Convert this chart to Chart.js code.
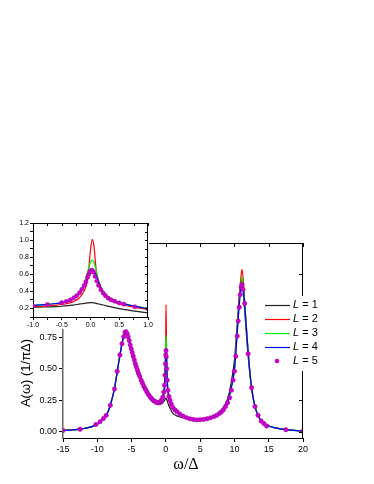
<!DOCTYPE html>
<html lang="en">
<head>
<meta charset="UTF-8">
<title>A(w) spectral function</title>
<style>
  body { margin: 0; background: #fff; }
  #wrap { position: relative; width: 374px; height: 484px; }
  #mainChart { position: absolute; left: 0; top: 0; }
  #insetChart { position: absolute; left: 0; top: 200px; }
</style>
</head>
<body>
<div id="wrap">
  <canvas id="mainChart" width="374" height="484"></canvas>
  <canvas id="insetChart" width="158" height="130"></canvas>
</div>
<script src="https://cdn.jsdelivr.net/npm/chart.js"></script>
<script>
// ---- data ----
const seriesNames = ['1', '2', '3', '4', '5'];
const seriesColors = ['#222222', '#ff0000', '#00ee00', '#0000ff', '#cc00cc'];

// main panel, solid lines L = 1..4
const omegaMain = [-15, -12.5, -10, -9, -8.5, -8, -7.5, -7, -6.5, -6.2,
  -5.9, -5.6, -5.3, -5, -4.5, -4, -3.5, -3, -2.5, -2,
  -1.5, -1, -0.6, -0.3, -0.15, -0.05, 0, 0.03, 0.1, 0.2,
  0.4, 0.6, 1, 1.5, 2, 2.5, 3, 3.5, 4, 4.5,
  5, 6, 7, 7.5, 8, 8.5, 9, 9.5, 10, 10.3,
  10.6, 10.9, 11.1, 11.3, 11.6, 12, 12.5, 13, 13.5, 14,
  15, 16, 17.5, 20];
const mainL1 = [0.01, 0.02, 0.06, 0.11, 0.15, 0.23, 0.34, 0.51, 0.67, 0.75,
  0.795, 0.78, 0.735, 0.67, 0.565, 0.485, 0.415, 0.355, 0.305, 0.265,
  0.235, 0.218, 0.222, 0.24, 0.253, 0.265, 0.268, 0.268, 0.26, 0.243,
  0.212, 0.186, 0.148, 0.128, 0.118, 0.112, 0.106, 0.1, 0.096, 0.094,
  0.095, 0.104, 0.123, 0.138, 0.163, 0.2, 0.26, 0.38, 0.57, 0.78,
  1.0, 1.17, 1.2, 1.1, 0.88, 0.6, 0.34, 0.195, 0.122, 0.078,
  0.045, 0.03, 0.016, 0.005];
const mainL2 = [0.01, 0.02, 0.06, 0.11, 0.15, 0.23, 0.34, 0.51, 0.67, 0.75,
  0.795, 0.77, 0.71, 0.635, 0.52, 0.44, 0.375, 0.32, 0.278, 0.247,
  0.228, 0.222, 0.238, 0.28, 0.36, 0.54, 0.88, 1.01, 0.64, 0.4,
  0.275, 0.235, 0.188, 0.158, 0.138, 0.122, 0.11, 0.102, 0.096, 0.093,
  0.094, 0.102, 0.118, 0.131, 0.153, 0.186, 0.235, 0.345, 0.5, 0.72,
  0.97, 1.2, 1.29, 1.2, 0.95, 0.64, 0.35, 0.2, 0.125, 0.08,
  0.045, 0.03, 0.016, 0.005];
const mainL3 = [0.01, 0.02, 0.06, 0.11, 0.15, 0.23, 0.34, 0.51, 0.67, 0.75,
  0.795, 0.775, 0.725, 0.655, 0.545, 0.465, 0.395, 0.34, 0.293, 0.258,
  0.237, 0.232, 0.258, 0.315, 0.42, 0.63, 0.74, 0.765, 0.64, 0.425,
  0.295, 0.252, 0.198, 0.165, 0.142, 0.125, 0.112, 0.103, 0.097, 0.094,
  0.095, 0.103, 0.12, 0.133, 0.155, 0.188, 0.235, 0.34, 0.49, 0.71,
  0.94, 1.15, 1.23, 1.16, 0.94, 0.63, 0.35, 0.2, 0.125, 0.08,
  0.045, 0.03, 0.016, 0.005];
const mainL4 = [0.01, 0.02, 0.06, 0.11, 0.15, 0.23, 0.34, 0.51, 0.67, 0.75,
  0.795, 0.775, 0.725, 0.655, 0.545, 0.465, 0.395, 0.34, 0.293, 0.258,
  0.237, 0.23, 0.255, 0.315, 0.42, 0.575, 0.645, 0.66, 0.585, 0.41,
  0.29, 0.25, 0.197, 0.165, 0.142, 0.125, 0.112, 0.103, 0.097, 0.094,
  0.095, 0.103, 0.12, 0.133, 0.155, 0.188, 0.235, 0.34, 0.49, 0.7,
  0.93, 1.12, 1.18, 1.13, 0.93, 0.63, 0.35, 0.2, 0.125, 0.08,
  0.045, 0.03, 0.016, 0.005];

// main panel, dots L = 5
const omegaDotsMain = [-15, -12.5, -10.2, -9.6, -9.1, -8.7, -8.1, -7.5, -7.1, -6.7,
  -6.4, -6.15, -5.95, -5.8, -5.65, -5.5, -5.35, -5.2, -5.05, -4.9,
  -4.75, -4.6, -4.45, -4.3, -4.15, -4.0, -3.8, -3.6, -3.4, -3.2,
  -3.0, -2.8, -2.6, -2.4, -2.2, -2.0, -1.8, -1.6, -1.4, -1.2,
  -1.0, -0.8, -0.6, -0.45, -0.3, -0.2, -0.12, -0.06, -0.02, 0.02,
  0.06, 0.12, 0.2, 0.3, 0.45, 0.6, 0.8, 1.0, 1.3, 1.6,
  2.0, 2.5, 3.0, 3.5, 4.0, 4.5, 5.0, 5.5, 6.0, 6.5,
  7.0, 7.4, 7.8, 8.1, 8.4, 8.7, 9.0, 9.3, 9.55, 9.8,
  10.0, 10.2, 10.4, 10.55, 10.7, 10.85, 11.0, 11.1, 11.25, 11.5,
  12.0, 12.5, 13.0, 13.45, 13.9, 14.3, 14.7, 17.5, 20];
const mainL5 = [0.01, 0.02, 0.058, 0.08, 0.105, 0.13, 0.21, 0.34, 0.48, 0.61,
  0.7, 0.755, 0.79, 0.795, 0.78, 0.755, 0.725, 0.69, 0.66, 0.63,
  0.6, 0.57, 0.54, 0.515, 0.49, 0.465, 0.44, 0.41, 0.385, 0.36,
  0.34, 0.32, 0.3, 0.285, 0.27, 0.258, 0.248, 0.24, 0.234, 0.231,
  0.23, 0.24, 0.255, 0.275, 0.315, 0.37, 0.45, 0.54, 0.61, 0.645,
  0.595, 0.5, 0.41, 0.33, 0.28, 0.25, 0.22, 0.195, 0.175, 0.16,
  0.142, 0.125, 0.112, 0.103, 0.097, 0.094, 0.095, 0.098, 0.103, 0.11,
  0.12, 0.13, 0.145, 0.158, 0.175, 0.2, 0.23, 0.27, 0.33, 0.41,
  0.48, 0.6, 0.76, 0.88, 0.99, 1.09, 1.15, 1.17, 1.13, 1.02,
  0.62, 0.35, 0.2, 0.13, 0.085, 0.065, 0.045, 0.016, 0.005];

// inset, lines L = 1..4
const omegaInset = [-1, -0.8, -0.6, -0.5, -0.4, -0.3, -0.2, -0.15, -0.1, -0.05,
  0, 0.03, 0.06, 0.1, 0.15, 0.2, 0.3, 0.4, 0.5, 0.6, 0.8, 1];
const insetL1 = [0.215, 0.217, 0.222, 0.226, 0.232, 0.24, 0.25, 0.255, 0.26, 0.265,
  0.268, 0.268, 0.266, 0.26, 0.252, 0.243, 0.227, 0.212, 0.198, 0.186, 0.166, 0.148];
const insetL2 = [0.222, 0.228, 0.238, 0.246, 0.258, 0.28, 0.32, 0.36, 0.42, 0.54,
  0.88, 1.01, 0.93, 0.64, 0.48, 0.4, 0.315, 0.275, 0.25, 0.235, 0.21, 0.188];
const insetL3 = [0.235, 0.245, 0.258, 0.268, 0.285, 0.315, 0.37, 0.42, 0.5, 0.63,
  0.74, 0.765, 0.74, 0.64, 0.51, 0.425, 0.335, 0.295, 0.27, 0.252, 0.224, 0.198];
const insetL4 = [0.235, 0.245, 0.258, 0.268, 0.285, 0.315, 0.37, 0.42, 0.485, 0.575,
  0.645, 0.66, 0.645, 0.585, 0.49, 0.41, 0.325, 0.29, 0.268, 0.25, 0.222, 0.197];

// inset, dots L = 5
const omegaDotsInset = [-1, -0.75, -0.5, -0.42, -0.35, -0.29, -0.24, -0.19, -0.15, -0.11,
  -0.08, -0.05, -0.03, -0.01, 0.01, 0.03, 0.05, 0.08, 0.11, 0.14,
  0.18, 0.22, 0.26, 0.31, 0.36, 0.42, 0.5, 0.58, 0.77, 1.0];
const insetL5 = [0.23, 0.245, 0.268, 0.282, 0.3, 0.325, 0.35, 0.385, 0.425, 0.47,
  0.515, 0.565, 0.6, 0.63, 0.645, 0.645, 0.625, 0.575, 0.52, 0.47,
  0.42, 0.38, 0.35, 0.32, 0.3, 0.285, 0.265, 0.25, 0.22, 0.195];

const FONT = '"Liberation Sans", Arial, sans-serif';

function pts(xs, ys) {
  return xs.map((x, i) => ({ x: x, y: ys[i] }));
}

function buildSets(lines, omegaLines, dots, omegaDots, dotR) {
  const sets = lines.map((vals, i) => ({
    label: 'L = ' + seriesNames[i],
    data: pts(omegaLines, vals),
    borderColor: seriesColors[i],
    borderWidth: 1.2,
    pointRadius: 0,
    cubicInterpolationMode: 'monotone',
    order: 4 - i
  }));
  sets.push({
    label: 'L = 5',
    data: pts(omegaDots, dots),
    showLine: false,
    pointRadius: dotR,
    pointBackgroundColor: seriesColors[4],
    pointBorderColor: '#a000a0',
    pointBorderWidth: 0.5,
    order: 0
  });
  return sets;
}

// top + right frame with inward ticks
function mirrorFrame(chart, len) {
  const { ctx, chartArea: a, scales: { x, y } } = chart;
  ctx.save();
  ctx.strokeStyle = '#000';
  ctx.lineWidth = 1;
  ctx.beginPath();
  ctx.moveTo(a.left, a.top + 0.5); ctx.lineTo(a.right, a.top + 0.5);
  ctx.moveTo(a.right - 0.5, a.top); ctx.lineTo(a.right - 0.5, a.bottom);
  x.ticks.forEach(t => {
    const px = Math.round(x.getPixelForValue(t.value)) + 0.5;
    ctx.moveTo(px, a.top); ctx.lineTo(px, a.top + len);
  });
  y.ticks.forEach(t => {
    const py = Math.round(y.getPixelForValue(t.value)) + 0.5;
    ctx.moveTo(a.right, py); ctx.lineTo(a.right - len, py);
  });
  ctx.stroke();
  ctx.restore();
}

const mainDecor = {
  id: 'mainDecor',
  afterDraw(chart) {
    mirrorFrame(chart, 4);
    const ctx = chart.ctx;
    ctx.save();
    ctx.fillStyle = '#000';
    // axis titles
    ctx.font = '16px "Liberation Serif", serif';
    ctx.textAlign = 'center';
    ctx.textBaseline = 'middle';
    ctx.fillText('ω/Δ', 186, 465);
    ctx.translate(26, 373);
    ctx.rotate(-Math.PI / 2);
    ctx.font = '13px ' + FONT;
    ctx.fillText('A(ω) (1/πΔ)', 0, 0);
    ctx.restore();

    // legend
    ctx.save();
    ctx.fillStyle = '#fff';
    ctx.fillRect(262, 296, 58, 75);
    const rows = [305, 319, 333, 347, 361];
    seriesNames.forEach((n, i) => {
      const yy = rows[i];
      if (i < 4) {
        ctx.strokeStyle = seriesColors[i];
        ctx.lineWidth = 1.2;
        ctx.beginPath();
        ctx.moveTo(265, yy + 0.5); ctx.lineTo(290, yy + 0.5);
        ctx.stroke();
      } else {
        ctx.fillStyle = seriesColors[4];
        ctx.beginPath();
        ctx.arc(277, yy, 2.3, 0, Math.PI * 2);
        ctx.fill();
      }
      ctx.fillStyle = '#000';
      ctx.textBaseline = 'middle';
      ctx.textAlign = 'left';
      ctx.font = 'italic 11px ' + FONT;
      ctx.fillText('L', 293, yy);
      const w = ctx.measureText('L').width;
      ctx.font = '11px ' + FONT;
      ctx.fillText(' = ' + n, 293 + w, yy);
    });
    ctx.restore();
  }
};

const insetDecor = {
  id: 'insetDecor',
  beforeDraw(chart) {
    const ctx = chart.ctx;
    ctx.save();
    ctx.fillStyle = '#fff';
    ctx.fillRect(0, 0, chart.chartArea.right + 1, chart.chartArea.bottom + 12);
    ctx.restore();
  },
  afterDraw(chart) {
    mirrorFrame(chart, 3);
  }
};

new Chart(document.getElementById('mainChart'), {
  type: 'line',
  data: { datasets: buildSets([mainL1, mainL2, mainL3, mainL4], omegaMain, mainL5, omegaDotsMain, 2.2) },
  options: {
    responsive: false,
    animation: false,
    devicePixelRatio: 1,
    layout: { padding: { left: 0, top: 243, right: 71, bottom: 0 } },
    plugins: { legend: { display: false }, tooltip: { enabled: false } },
    scales: {
      x: {
        type: 'linear', min: -15, max: 20,
        afterFit: s => { s.height = 46; },
        ticks: { stepSize: 5, padding: 2, color: '#000', font: { family: FONT, size: 9 },
          callback: v => String(v) },
        grid: { drawOnChartArea: false, tickLength: 4, color: '#000' },
        border: { color: '#000', width: 1 }
      },
      y: {
        type: 'linear', min: -0.05, max: 1.5,
        afterFit: s => { s.width = 63; },
        ticks: { stepSize: 0.25, includeBounds: false, padding: 2, color: '#000',
          font: { family: FONT, size: 9 }, callback: v => v.toFixed(2) },
        grid: { drawOnChartArea: false, tickLength: 4, color: '#000' },
        border: { color: '#666', width: 1.5 }
      }
    }
  },
  plugins: [mainDecor]
});

new Chart(document.getElementById('insetChart'), {
  type: 'line',
  data: { datasets: buildSets([insetL1, insetL2, insetL3, insetL4], omegaInset, insetL5, omegaDotsInset, 2.1) },
  options: {
    responsive: false,
    animation: false,
    devicePixelRatio: 1,
    layout: { padding: { left: 0, top: 23, right: 10, bottom: 0 } },
    plugins: { legend: { display: false }, tooltip: { enabled: false } },
    scales: {
      x: {
        type: 'linear', min: -1, max: 1,
        afterFit: s => { s.height = 13; },
        ticks: { stepSize: 0.25, padding: 1, color: '#000', maxRotation: 0, autoSkip: false,
          font: { family: FONT, size: 7 },
          callback: v => Math.abs(v * 2 - Math.round(v * 2)) < 1e-6 ? v.toFixed(1) : '' },
        grid: { drawOnChartArea: false, tickLength: 3, color: '#000' },
        border: { color: '#000', width: 1 }
      },
      y: {
        type: 'linear', min: 0.1, max: 1.2,
        afterFit: s => { s.width = 33; },
        ticks: { stepSize: 0.1, padding: 1, color: '#000', autoSkip: false,
          font: { family: FONT, size: 7 },
          callback: v => Math.round(v * 10) % 2 === 0 ? v.toFixed(1) : '' },
        grid: { drawOnChartArea: false, tickLength: 3, color: '#000' },
        border: { color: '#000', width: 1 }
      }
    }
  },
  plugins: [insetDecor]
});
</script>
</body>
</html>
